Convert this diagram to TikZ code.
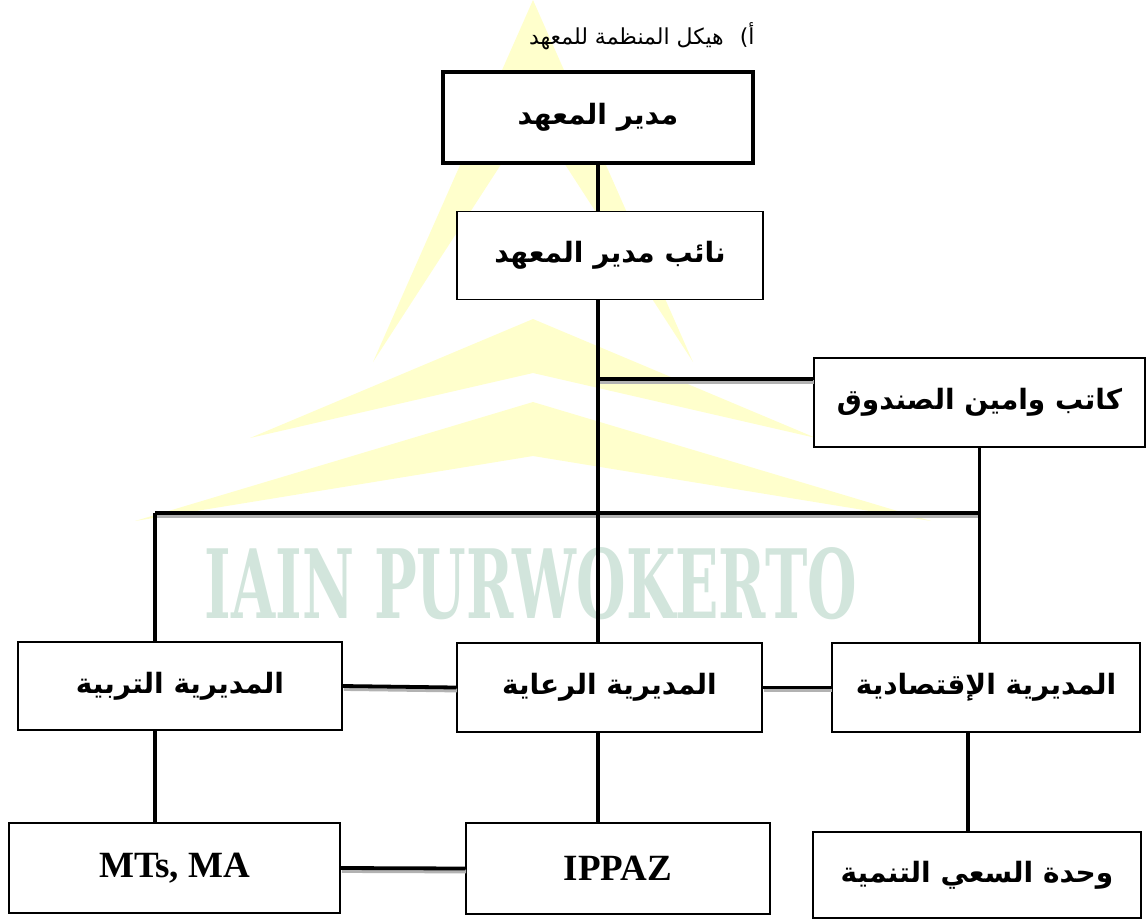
\documentclass[tikz,border=0pt]{standalone}
\usepackage{fontspec}
\usepackage{graphicx}
\usepackage{tikz}
\usetikzlibrary{positioning}
\setmainfont{Liberation Serif}
\newfontfamily\arabicfont[Script=Arabic]{DejaVu Sans}
\newfontfamily\markfont{DejaVu Serif}
\TeXXeTstate=1
\newcommand{\artext}[1]{{\arabicfont\beginR #1\endR}}
\definecolor{markyellow}{RGB}{255,255,204}
\definecolor{markgreen}{RGB}{210,229,220}
\tikzset{unit/.style = {draw, line width = 1.8pt, fill = white, inner sep = 0,
                        minimum height = 89pt,
                        font = \fontsize{28}{34}\selectfont\bfseries}}
\tikzset{link/.style = {line width = 3.8pt}}
\tikzset{linkshadow/.style = {gray!60, line width = 3.8pt,
                              transform canvas = {shift = {(1, 3)}}}}

\begin{document}
\begin{tikzpicture}[x = 1pt, y = -1pt]
      \useasboundingbox (0, 0) rectangle (1148, 922);

      \fill [markyellow] (533, 0) -- (693, 362) -- (533, 115) -- (373, 362) -- cycle;
      \fill [markyellow] (533, 319) -- (816, 438) -- (533, 373) -- (250, 438) -- cycle;
      \fill [markyellow] (533, 402) -- (931, 521) -- (533, 456) -- (135, 521) -- cycle;
      \node [text = markgreen, inner sep = 0] (mark) at (531, 584)
            {\resizebox{652pt}{71pt}{\markfont\bfseries IAIN PURWOKERTO}};

      \node [font = \fontsize{22}{28}\selectfont, anchor = east] (title) at (758, 36)
            {\artext{هيكل المنظمة للمعهد}\hspace{16pt}{\arabicfont أ)}};

      \node [unit, line width = 4.2pt, minimum width = 310, minimum height = 91] (dir) at (598, 117.5) {\artext{مدير المعهد}};
      \node [unit, minimum width = 306, minimum height = 88] (vice) at (610, 255.5) {\artext{نائب مدير المعهد}};
      \node [unit, minimum width = 331] (sec) at (979.5, 402.5) {\artext{كاتب وامين الصندوق}};
      \node [unit, minimum width = 324, minimum height = 88] (tarb) at (180, 686) {\artext{المديرية التربية}};
      \node [unit, minimum width = 305] (riaya) at (609.5, 687.5) {\artext{المديرية الرعاية}};
      \node [unit, minimum width = 308] (iqt) at (986, 687.5) {\artext{المديرية الإقتصادية}};
      \node [unit, minimum width = 331, minimum height = 90, font = \fontsize{37}{42}\selectfont\bfseries] (mts) at (174.5, 868) {MTs, MA};
      \node [unit, minimum width = 304, minimum height = 91, font = \fontsize{37}{42}\selectfont\bfseries] (ippaz) at (618, 868.5) {IPPAZ};
      \node [unit, line width = 2.6pt, minimum width = 328, minimum height = 86] (wahda) at (977, 875) {\artext{وحدة السعي التنمية}};

      \coordinate (secjoin) at (597, 379);
      \coordinate (secend) at (secjoin -| sec.west);
      \coordinate (barL) at (155, 513);
      \coordinate (barR) at (sec.south |- barL);

      \foreach \a/\b in {secjoin/secend, barL/barR, tarb.east/riaya.west,
                         riaya.east/iqt.west, mts.east/ippaz.west} {
        \draw [linkshadow] (\a) -- (\b);
        \draw [link] (\a) -- (\b);
      }

      \draw [link] (dir.south) -- (dir.south |- vice.north);
      \draw [link] (dir.south |- vice.south) -- (dir.south |- riaya.north);
      \draw [link] (dir.south |- riaya.south) -- (dir.south |- ippaz.north);
      \draw [link] (sec.south) -- (sec.south |- iqt.north);
      \draw [link] (barL) -- (barL |- tarb.north);
      \draw [link] (barL |- tarb.south) -- (barL |- mts.north);
      \draw [link] ([xshift = -18]iqt.south) -- ([xshift = -18]iqt.south |- wahda.north);
\end{tikzpicture}
\end{document}
